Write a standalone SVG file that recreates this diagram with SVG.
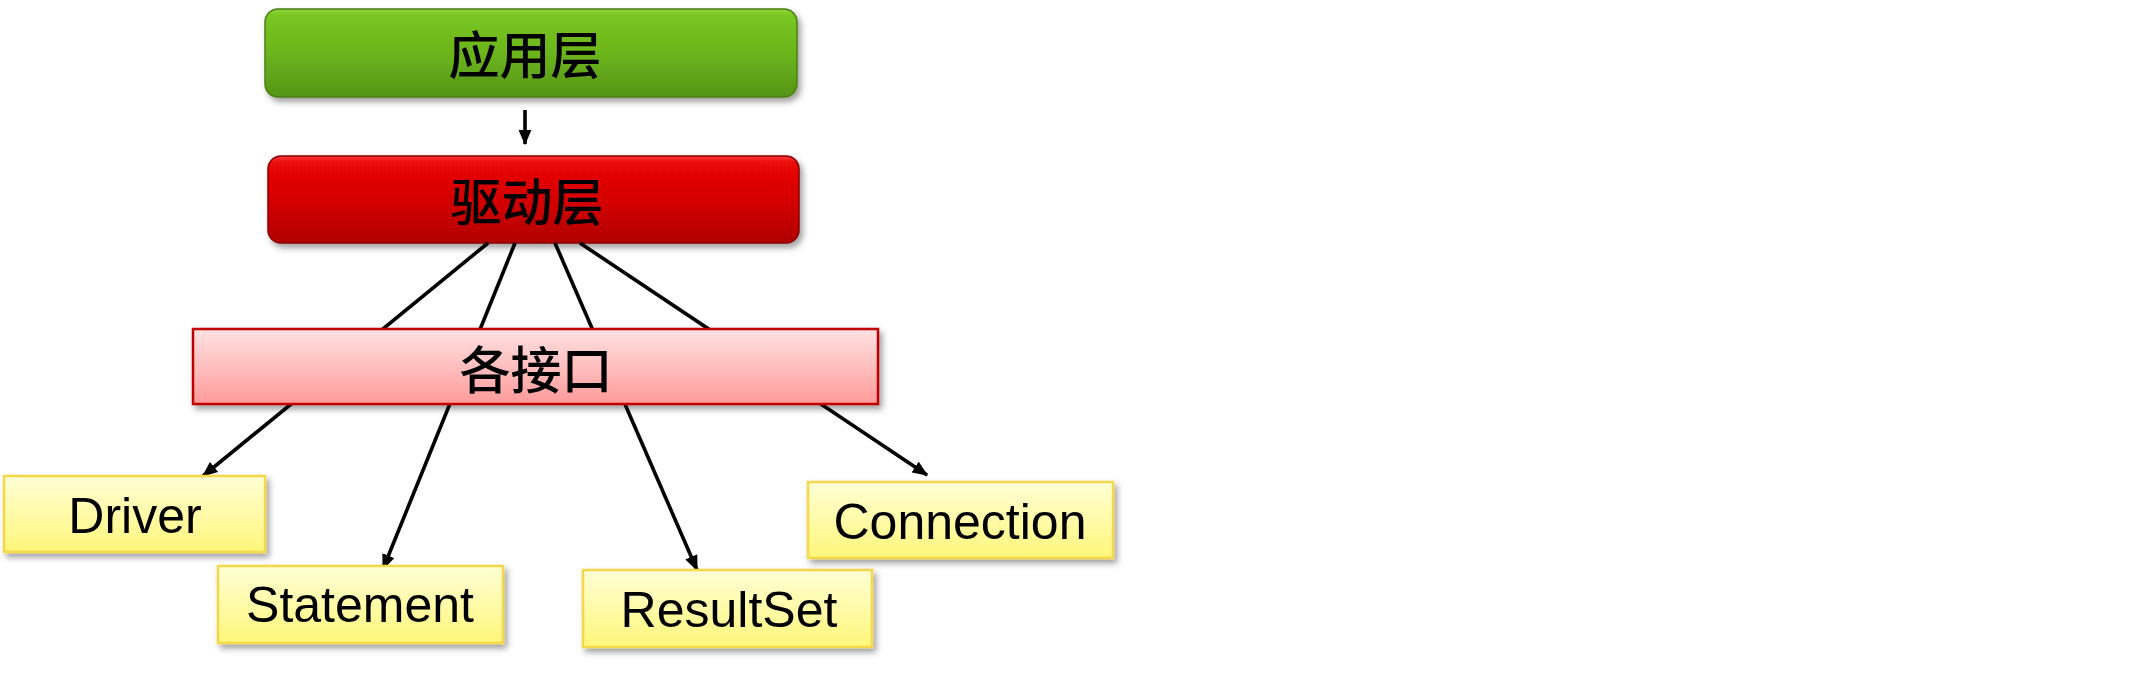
<svg xmlns="http://www.w3.org/2000/svg" width="2152" height="681" viewBox="0 0 2152 681">
  <defs>
    <linearGradient id="gGreen" x1="0" y1="0" x2="0" y2="1">
      <stop offset="0" stop-color="#8ED43A"/>
      <stop offset="0.08" stop-color="#78C621"/>
      <stop offset="0.55" stop-color="#6AB21D"/>
      <stop offset="1" stop-color="#559416"/>
    </linearGradient>
    <linearGradient id="gRed" x1="0" y1="0" x2="0" y2="1">
      <stop offset="0" stop-color="#FF3A3A"/>
      <stop offset="0.08" stop-color="#EA0707"/>
      <stop offset="0.55" stop-color="#D20404"/>
      <stop offset="1" stop-color="#B00202"/>
    </linearGradient>
    <linearGradient id="gPink" x1="0" y1="0" x2="0" y2="1">
      <stop offset="0" stop-color="#FFE2E2"/>
      <stop offset="1" stop-color="#FF9A9A"/>
    </linearGradient>
    <linearGradient id="gYellow" x1="0" y1="0" x2="0" y2="1">
      <stop offset="0" stop-color="#FFFFD6"/>
      <stop offset="1" stop-color="#FFF67A"/>
    </linearGradient>
    <filter id="shadow" x="-10%" y="-20%" width="125%" height="150%">
      <feDropShadow dx="3" dy="4" stdDeviation="3" flood-color="#000" flood-opacity="0.38"/>
    </filter>
    <marker id="arrow" viewBox="0 0 12 10" refX="11" refY="5" markerWidth="16" markerHeight="13" markerUnits="userSpaceOnUse" orient="auto">
      <path d="M0,0 L12,5 L0,10 z" fill="#000"/>
    </marker>
  </defs>
  <style>
    .cjk { font-family: "Noto Sans CJK SC", "Noto Sans", sans-serif; font-size: 51px; font-weight: 500; fill: #000; text-anchor: middle; }
    .lat { font-family: "Liberation Sans", Arial, sans-serif; font-size: 50px; fill: #000; text-anchor: middle; }
    .yel { fill: url(#gYellow); stroke: #F5D84A; stroke-width: 2.5; filter: url(#shadow); }
    .conn { stroke: #000; stroke-width: 3.6; fill: none; }
  </style>

  <g id="node-app">
    <rect x="265" y="9" width="532" height="88" rx="13" ry="13" fill="url(#gGreen)" stroke="#4A8012" stroke-width="1.5" filter="url(#shadow)"/>
    <text class="cjk" x="525" y="74">应用层</text>
  </g>

  <g id="node-driver-layer">
    <rect x="268" y="156" width="531" height="87" rx="13" ry="13" fill="url(#gRed)" stroke="#8A0000" stroke-width="1.5" filter="url(#shadow)"/>
    <text class="cjk" x="527" y="221">驱动层</text>
  </g>

  <g id="connectors">
    <line class="conn" x1="525" y1="110" x2="525" y2="144" marker-end="url(#arrow)"/>
    <line class="conn" x1="488" y1="243" x2="203" y2="476" marker-end="url(#arrow)"/>
    <line class="conn" x1="515" y1="243" x2="383" y2="569" marker-end="url(#arrow)"/>
    <line class="conn" x1="555" y1="243" x2="697" y2="570" marker-end="url(#arrow)"/>
    <line class="conn" x1="580" y1="243" x2="927" y2="475" marker-end="url(#arrow)"/>
  </g>

  <g id="node-interfaces">
    <rect x="193" y="329" width="685" height="75" fill="url(#gPink)" stroke="#C00000" stroke-width="2.5" filter="url(#shadow)"/>
    <text class="cjk" x="536" y="389">各接口</text>
  </g>

  <g id="node-Driver">
    <rect class="yel" x="4" y="476" width="261" height="76"/>
    <text class="lat" x="135" y="533">Driver</text>
  </g>

  <g id="node-Statement">
    <rect class="yel" x="218" y="566" width="285" height="77"/>
    <text class="lat" x="360" y="622">Statement</text>
  </g>

  <g id="node-ResultSet">
    <rect class="yel" x="583" y="570" width="289" height="77"/>
    <text class="lat" x="729" y="627">ResultSet</text>
  </g>

  <g id="node-Connection">
    <rect class="yel" x="808" y="482" width="305" height="76"/>
    <text class="lat" x="960" y="539">Connection</text>
  </g>
</svg>
